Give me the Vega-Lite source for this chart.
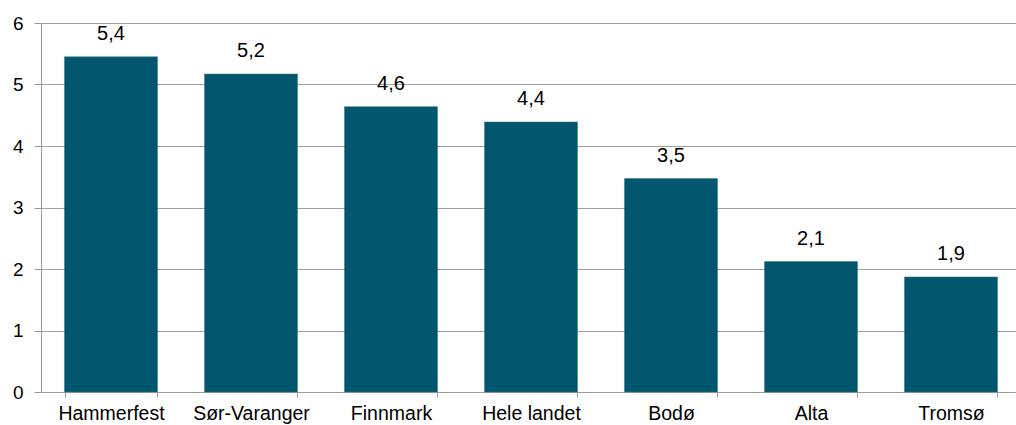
{
  "$schema": "https://vega.github.io/schema/vega-lite/v6.json",
  "autosize": {"type": "none"},
  "padding": {"left": 41, "top": 23, "right": 0, "bottom": 33},
  "width": 980,
  "height": 369,
  "background": "white",
  "config": {"view": {"stroke": null}, "font": "Liberation Sans"},
  "data": {
    "values": [
      {"sted": "Hammerfest", "verdi": 5.45, "etikett": "5,4"},
      {"sted": "Sør-Varanger", "verdi": 5.17, "etikett": "5,2"},
      {"sted": "Finnmark", "verdi": 4.64, "etikett": "4,6"},
      {"sted": "Hele landet", "verdi": 4.39, "etikett": "4,4"},
      {"sted": "Bodø", "verdi": 3.47, "etikett": "3,5"},
      {"sted": "Alta", "verdi": 2.12, "etikett": "2,1"},
      {"sted": "Tromsø", "verdi": 1.87, "etikett": "1,9"}
    ]
  },
  "encoding": {
    "x": {
      "field": "sted", "type": "nominal", "sort": null,
      "scale": {"paddingInner": 0.336, "paddingOuter": 0.168},
      "axis": {
        "title": null, "labelAngle": 0, "labelFontSize": 19.5, "labelColor": "#000000",
        "labelFont": "Liberation Sans", "labelPadding": 7,
        "domainColor": "#9a9a9a", "tickColor": "#9a9a9a", "tickSize": 5,
        "tickBand": "extent", "grid": false
      }
    },
    "y": {
      "field": "verdi", "type": "quantitative",
      "scale": {"domain": [0, 6], "nice": false},
      "axis": {
        "title": null, "values": [0, 1, 2, 3, 4, 5, 6], "labelFontSize": 19,
        "labelColor": "#000000", "labelFont": "Liberation Sans", "labelPadding": 11,
        "domainColor": "#9a9a9a", "tickColor": "#9a9a9a", "tickSize": 7,
        "grid": true, "gridColor": "#a0a0a0", "gridWidth": 1
      }
    }
  },
  "layer": [
    {"mark": {"type": "bar", "color": "#02566E", "stroke": "#2f7186", "strokeWidth": 0.5}},
    {
      "mark": {"type": "text", "baseline": "alphabetic", "dy": -17, "fontSize": 20, "color": "#000000", "font": "Liberation Sans"},
      "encoding": {"text": {"field": "etikett"}}
    }
  ]
}
